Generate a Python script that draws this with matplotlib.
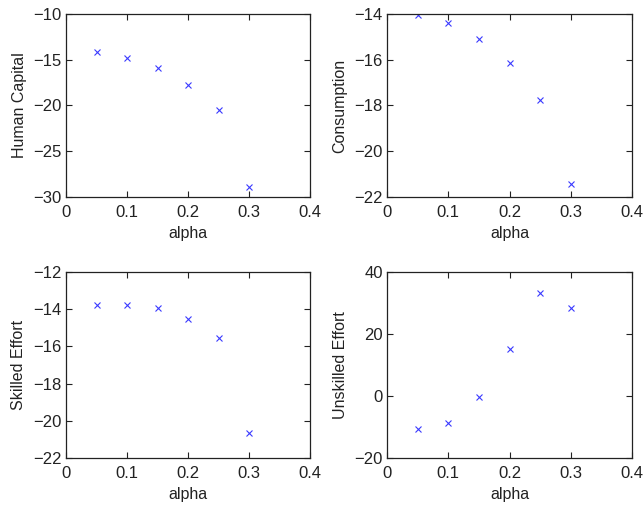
import matplotlib
matplotlib.use("Agg")
import matplotlib.pyplot as plt

plt.rcParams['font.family'] = ['Liberation Sans', 'DejaVu Sans']

alpha = [0.05, 0.10, 0.15, 0.20, 0.25, 0.30]
human_capital = [-14.1, -14.8, -15.95, -17.8, -20.5, -28.9]
consumption = [-14.03, -14.38, -15.08, -16.16, -17.75, -21.45]
skilled_effort = [-13.8, -13.75, -13.95, -14.52, -15.55, -20.64]
unskilled_effort = [-10.6, -8.6, -0.2, 15.2, 33.2, 28.3]

panels = [
    ("Human Capital", human_capital, (-30, -10), [-30, -25, -20, -15, -10]),
    ("Consumption", consumption, (-22, -14), [-22, -20, -18, -16, -14]),
    ("Skilled Effort", skilled_effort, (-22, -12), [-22, -20, -18, -16, -14, -12]),
    ("Unskilled Effort", unskilled_effort, (-20, 40), [-20, 0, 20, 40]),
]
xticks = [0, 0.1, 0.2, 0.3, 0.4]
xticklabels = ["0", "0.1", "0.2", "0.3", "0.4"]

W, H = 644, 511
fig = plt.figure(figsize=(W/100, H/100), dpi=100)
boxes = [(66, 14, 310, 197), (387, 14, 632, 197), (66, 272, 310, 458), (387, 272, 632, 458)]

for (label, vals, ylim, yt), (x0, y0, x1, y1) in zip(panels, boxes):
    ax = fig.add_axes([x0/W, 1 - y1/H, (x1-x0)/W, (y1-y0)/H])
    ax.plot(alpha, vals, linestyle='none', marker='x', color='#3a3aff', markersize=4.5, markeredgewidth=0.8)
    ax.set_xlim(0, 0.4)
    ax.set_ylim(*ylim)
    ax.set_xticks(xticks)
    ax.set_xticklabels(xticklabels)
    ax.set_yticks(yt)
    ax.set_yticklabels([str(v).replace('-', '\u2212') for v in yt])
    ax.tick_params(axis='both', direction='in', top=True, right=True, labelsize=12, length=4, width=0.8, colors='#222222')
    ax.tick_params(axis='x', pad=6)
    ax.tick_params(axis='y', pad=3)
    for s in ax.spines.values():
        s.set_linewidth(0.9)
        s.set_color('#222222')
    ax.set_xlabel('alpha', fontsize=11.5, color='#222222', labelpad=4)
    ax.set_ylabel(label, fontsize=11.5, color='#222222', labelpad=5)

fig.savefig('out.png', dpi=100, facecolor='white')
